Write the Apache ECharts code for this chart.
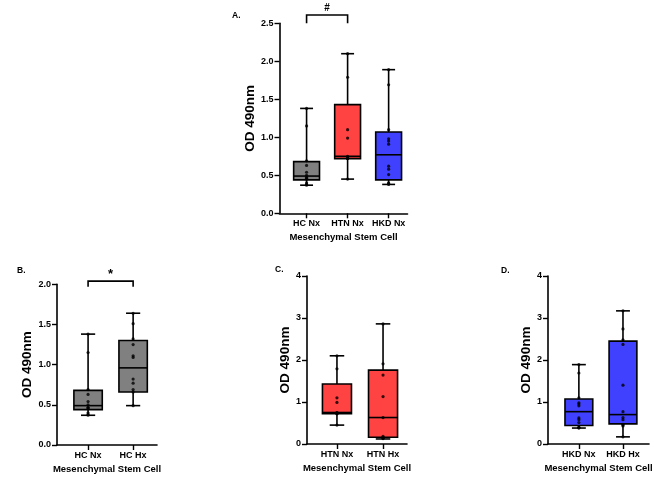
<!DOCTYPE html>
<html><head><meta charset="utf-8">
<script src="https://cdn.jsdelivr.net/npm/echarts@6/dist/echarts.min.js"></script>
<style>html,body{margin:0;padding:0;background:#fff}#c{width:669px;height:488px}</style>
</head><body><div id="c"></div>
<script>
// ---- data ----
const catsA = ['HC Nx', 'HTN Nx', 'HKD Nx'];
const catsB = ['HC Nx', 'HC Hx'];
const catsC = ['HTN Nx', 'HTN Hx'];
const catsD = ['HKD Nx', 'HKD Hx'];

// box summaries: [min, Q1, median, Q3, max]
const boxHCNx  = [0.37, 0.44, 0.49, 0.68, 1.38];
const boxHTNNx = [0.45, 0.72, 0.75, 1.43, 2.10];
const boxHKDNx = [0.38, 0.44, 0.77, 1.07, 1.89];
const boxHCHx  = [0.49, 0.66, 0.96, 1.30, 1.64];
const boxHTNHx = [0.12, 0.16, 0.63, 1.76, 2.86];
const boxHKDHx = [0.17, 0.48, 0.70, 2.45, 3.17];

// individual points
const ptsHCNx  = [1.38, 1.15, 0.69, 0.63, 0.54, 0.50, 0.47, 0.46, 0.45, 0.40, 0.38, 0.37];
const ptsHTNNx = [2.10, 1.79, 1.10, 0.99, 0.75, 0.74, 0.72, 0.72, 0.45];
const ptsHKDNx = [1.89, 1.69, 1.10, 0.98, 0.95, 0.91, 0.62, 0.58, 0.51, 0.40, 0.39, 0.38];
const ptsHCHx  = [1.64, 1.51, 1.32, 1.25, 1.11, 1.09, 0.82, 0.77, 0.69, 0.66, 0.49];
const ptsHTNHx = [2.86, 1.91, 1.64, 1.13, 0.63, 0.18, 0.15, 0.14, 0.13];
const ptsHKDHx = [3.17, 2.74, 2.48, 2.37, 1.40, 0.77, 0.63, 0.58, 0.47, 0.45, 0.43, 0.17];

// significance annotations: [fromIndex, toIndex, legBottomValue, topValue, label]
const sigA = [0, 1, 2.50, 2.61, '#'];
const sigB = [0, 1, 1.97, 2.04, '*'];

// ---- styles ----
const GRAY = '#808080', RED = '#ff4242', BLUE = '#4040ff';
const FONT = '"Liberation Sans", Arial, sans-serif';

const panels = [
  {label:'A.', labelPos:[232,11], cats:catsA, boxes:[boxHCNx,boxHTNNx,boxHKDNx], pts:[ptsHCNx,ptsHTNNx,ptsHKDNx],
   colors:[GRAY,RED,BLUE], grid:{left:279.5, top:23.3, width:128, height:190}, xMin:-0.66, xMax:2.46,
   yMax:2.5, yInt:0.5, dec:1, nameGap:21, sig:sigA},
  {label:'B.', labelPos:[17,266], cats:catsB, boxes:[boxHCNx,boxHCHx], pts:[ptsHCNx,ptsHCHx],
   colors:[GRAY,GRAY], grid:{left:57, top:284.3, width:100, height:160.7}, xMin:-0.69, xMax:1.53,
   yMax:2.0, yInt:0.5, dec:1, nameGap:22, sig:sigB},
  {label:'C.', labelPos:[275,265], cats:catsC, boxes:[boxHTNNx,boxHTNHx], pts:[ptsHTNNx,ptsHTNHx],
   colors:[RED,RED], grid:{left:307, top:276, width:100, height:168}, xMin:-0.65, xMax:1.52,
   yMax:4, yInt:1, dec:0, nameGap:15, sig:null},
  {label:'D.', labelPos:[501,266], cats:catsD, boxes:[boxHKDNx,boxHKDHx], pts:[ptsHKDNx,ptsHKDHx],
   colors:[BLUE,BLUE], grid:{left:548, top:276, width:101, height:168}, xMin:-0.70, xMax:1.59,
   yMax:4, yInt:1, dec:0, nameGap:10, sig:null}
];

const grids = [], xAxes = [], yAxes = [], series = [], graphics = [];
panels.forEach((p, i) => {
  grids.push(Object.assign({containLabel:false}, p.grid));
  const idxs = p.cats.map((_, k) => k);
  xAxes.push({
    type:'value', gridIndex:i, min:p.xMin, max:p.xMax,
    name:'Mesenchymal Stem Cell', nameLocation:'middle', nameGap:19,
    nameTextStyle:{fontFamily:FONT, fontWeight:'bold', fontSize:9.5, color:'#000'},
    axisLine:{show:true, onZero:false, lineStyle:{color:'#000', width:1.6}},
    axisTick:{show:true, length:5, lineStyle:{color:'#000', width:1.4}, customValues:idxs},
    axisLabel:{customValues:idxs, formatter:(v)=>p.cats[Math.round(v)], margin:6,
      fontFamily:FONT, fontWeight:'bold', fontSize:9, color:'#000'},
    splitLine:{show:false}
  });
  yAxes.push({
    type:'value', gridIndex:i, min:0, max:p.yMax, interval:p.yInt,
    name:'OD 490nm', nameLocation:'middle', nameGap:p.nameGap,
    nameTextStyle:{fontFamily:FONT, fontWeight:'bold', fontSize:13.5, color:'#000'},
    axisLine:{show:true, onZero:false, lineStyle:{color:'#000', width:1.6}},
    axisTick:{show:true, length:5, lineStyle:{color:'#000', width:1.4}},
    axisLabel:{formatter:(v)=>v.toFixed(p.dec), margin:6, fontFamily:FONT, fontWeight:'bold', fontSize:9, color:'#000'},
    splitLine:{show:false}
  });
  // boxes
  series.push({
    type:'custom', xAxisIndex:i, yAxisIndex:i, z:2, clip:false,
    data: p.boxes.map((b, k) => [k].concat(b)),
    renderItem: function(params, api){
      const x = api.value(0);
      const lo = api.coord([x, api.value(1)]), q1 = api.coord([x, api.value(2)]),
            md = api.coord([x, api.value(3)]), q3 = api.coord([x, api.value(4)]),
            hi = api.coord([x, api.value(5)]);
      const w = api.size([1, 0])[0] * 0.63, cw = w * 0.5;
      const cx = lo[0];
      const ls = {stroke:'#000', lineWidth:1.6};
      return {type:'group', children:[
        {type:'line', shape:{x1:cx, y1:hi[1], x2:cx, y2:q3[1]}, style:ls},
        {type:'line', shape:{x1:cx, y1:q1[1], x2:cx, y2:lo[1]}, style:ls},
        {type:'line', shape:{x1:cx-cw/2, y1:hi[1], x2:cx+cw/2, y2:hi[1]}, style:ls},
        {type:'line', shape:{x1:cx-cw/2, y1:lo[1], x2:cx+cw/2, y2:lo[1]}, style:ls},
        {type:'rect', shape:{x:cx-w/2, y:q3[1], width:w, height:q1[1]-q3[1]},
          style:{fill:p.colors[params.dataIndex], stroke:'#000', lineWidth:1.6}},
        {type:'line', shape:{x1:cx-w/2, y1:md[1], x2:cx+w/2, y2:md[1]}, style:ls}
      ]};
    }
  });
  // points
  const ptData = [];
  p.pts.forEach((arr, k) => arr.forEach(v => ptData.push([k, v])));
  series.push({
    type:'scatter', xAxisIndex:i, yAxisIndex:i, z:5, symbolSize:3.2,
    itemStyle:{color:'#000'}, data:ptData, silent:true
  });
  // significance bracket
  if (p.sig) {
    series.push({
      type:'custom', xAxisIndex:i, yAxisIndex:i, z:3, clip:false,
      data:[p.sig.slice(0, 4)],
      renderItem: function(params, api){
        const a = api.coord([api.value(0), api.value(2)]);
        const b = api.coord([api.value(0), api.value(3)]);
        const c = api.coord([api.value(1), api.value(3)]);
        const d = api.coord([api.value(1), api.value(2)]);
        return {type:'group', children:[
          {type:'polyline', shape:{points:[a, b, c, d]}, style:{stroke:'#000', lineWidth:1.6, fill:null}},
          {type:'text', style:{text:p.sig[4], x:(b[0]+c[0])/2, y:b[1]-(p.sig[4]==='*'?0:2), align:'center', verticalAlign:'bottom',
            fontFamily:FONT, fontWeight:'bold', fontSize:p.sig[4]==='*'?13:10, fill:'#000'}}
        ]};
      }
    });
  }
  graphics.push({type:'text', left:p.labelPos[0], top:p.labelPos[1],
    style:{text:p.label, fontFamily:FONT, fontWeight:'bold', fontSize:8.5, fill:'#000'}});
});

const chart = echarts.init(document.getElementById('c'), null, {renderer:'canvas'});
chart.setOption({
  animation:false,
  backgroundColor:'#fff',
  grid:grids, xAxis:xAxes, yAxis:yAxes, series:series, graphic:graphics
});
</script></body></html>
